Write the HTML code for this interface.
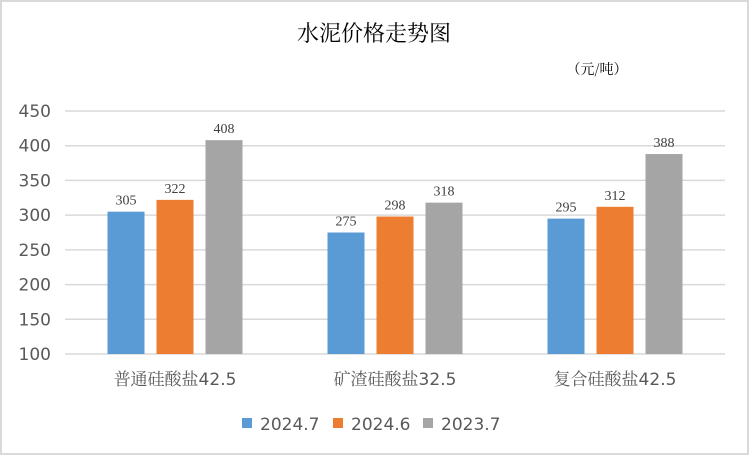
<!DOCTYPE html>
<html><head><meta charset="utf-8"><style>
html,body{margin:0;padding:0;background:#fff}
svg{display:block}
</style></head><body>
<svg id="c" width="749" height="455" viewBox="0 0 749 455" xmlns="http://www.w3.org/2000/svg">
<rect x="1" y="1" width="747" height="453" fill="#fff" stroke="#d9d9d9" stroke-width="2"/>
<text x="374" y="41" text-anchor="middle" font-family="'Noto Serif CJK SC',serif" font-size="22" fill="#000">水泥价格走势图</text>
<text x="597" y="74" text-anchor="middle" font-family="'Noto Serif CJK SC',serif" font-size="14" fill="#000">（元/吨）</text>
<g id="grid"></g>
<g id="yt"></g>
<g id="bars"></g>
<g id="xl"></g>
<g id="lg"></g>
</svg>
<script>
const categories=["普通硅酸盐42.5","矿渣硅酸盐32.5","复合硅酸盐42.5"];
const seriesNames=["2024.7","2024.6","2023.7"];
const s2024_7=[305,275,295];
const s2024_6=[322,298,312];
const s2023_7=[408,318,388];
const yTicks=[100,150,200,250,300,350,400,450];
const colors=["#5b9bd5","#ed7d31","#a5a5a5"];
const NS="http://www.w3.org/2000/svg";
const X0=65,X1=725,Y100=354,Y450=111;
function y(v){return Y100-(v-100)*(Y100-Y450)/350;}
function groupX(i){return X0+(X1-X0)/categories.length*(i+0.5);}
function mk(tag,attrs,parent){const e=document.createElementNS(NS,tag);for(const k in attrs)e.setAttribute(k,attrs[k]);parent.appendChild(e);return e;}
const grid=document.getElementById('grid'),yt=document.getElementById('yt'),bars=document.getElementById('bars'),xl=document.getElementById('xl'),lg=document.getElementById('lg');
yTicks.forEach(t=>{
 const l=mk('line',{x1:X0,x2:X1,y1:y(t),y2:y(t),stroke:'#d9d9d9','stroke-width':1.5},grid);
 
 
 const tx=mk('text',{x:51,y:y(t)+6,'text-anchor':'end','font-family':'DejaVu Sans,sans-serif','font-size':17,fill:'#595959'},yt);
 tx.textContent=t;
 
 
});
const series=[s2024_7,s2024_6,s2023_7];
const bw=37,step=49;
categories.forEach((c,i)=>{
 const cx=groupX(i);
 series.forEach((s,j)=>{
  const bx=cx-bw/2+(j-1)*step;
  const r=mk('rect',{x:bx,y:y(s[i]),width:bw,height:Y100-y(s[i]),fill:colors[j]},bars);
  
  
  const t=mk('text',{x:bx+bw/2,y:y(s[i])-7,'text-anchor':'middle','font-family':'Liberation Serif,serif','font-size':14,fill:'#404040'},bars);
  t.textContent=s[i];
  
  
 });
 const t=mk('text',{x:cx,y:385,'text-anchor':'middle','font-family':"'DejaVu Sans','Noto Serif CJK SC',sans-serif",'font-size':17,fill:'#595959'},xl);
 t.textContent=c;
 
 
});
const lx=[242,333,423];
seriesNames.forEach((n,j)=>{
 const r=mk('rect',{x:lx[j],y:418,width:10,height:10,fill:colors[j]},lg);
 
 
 const t=mk('text',{x:lx[j]+18,y:430,'font-family':'DejaVu Sans,sans-serif','font-size':17,fill:'#595959'},lg);
 t.textContent=n;
 
 
});
</script>
</body></html>
